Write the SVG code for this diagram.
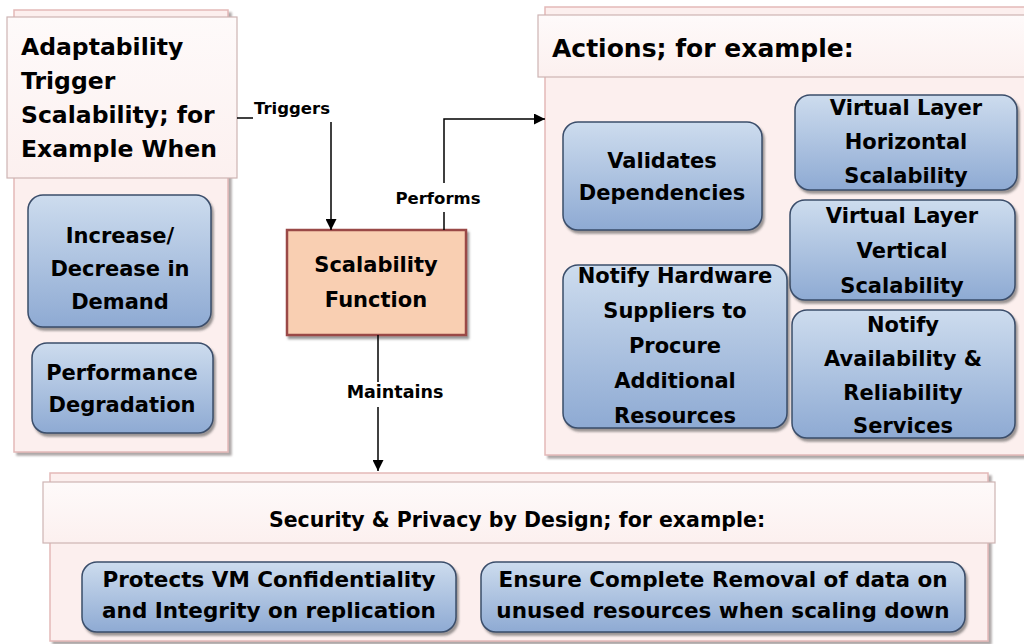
<svg xmlns="http://www.w3.org/2000/svg" width="1024" height="644" viewBox="0 0 1024 644">
  <defs>
    <linearGradient id="blueFill" x1="0" y1="0" x2="0" y2="1">
      <stop offset="0" stop-color="#cddcee"/>
      <stop offset="1" stop-color="#8eaad3"/>
    </linearGradient>
    <linearGradient id="headFill" x1="0" y1="0" x2="0" y2="1">
      <stop offset="0" stop-color="#fefafa"/>
      <stop offset="1" stop-color="#fcf0ef"/>
    </linearGradient>
    <filter id="shadow" x="-10%" y="-10%" width="120%" height="130%">
      <feDropShadow dx="2" dy="3" stdDeviation="1.2" flood-color="#4a4a4a" flood-opacity="0.55"/>
    </filter>
    <filter id="softShadow" x="-5%" y="-5%" width="110%" height="115%">
      <feDropShadow dx="3" dy="3" stdDeviation="1" flood-color="#8a8282" flood-opacity="0.7"/>
    </filter>
    <marker id="arrow" viewBox="0 0 10 10" refX="10" refY="5" markerWidth="11" markerHeight="11" markerUnits="userSpaceOnUse" orient="auto">
      <path d="M0,0 L10,5 L0,10 z" fill="#000"/>
    </marker>
  </defs>
  <style>
    text { font-family: "DejaVu Sans", Verdana, sans-serif; font-weight: bold; fill: #000; }
    .container { fill: #fcefee; stroke: #e3b9b8; stroke-width: 1.5; filter: url(#softShadow); }
    .header { fill: url(#headFill); stroke: #cdb4b3; stroke-width: 1.2; }
    .item { fill: url(#blueFill); stroke: #3a4d6a; stroke-width: 1.5; filter: url(#shadow); }
    .item-text { font-size: 21px; text-anchor: middle; }
    .wide-text { font-size: 21.5px; text-anchor: middle; }
    .head-text { font-size: 23.5px; }
    .label { font-size: 16.5px; }
    .wire { stroke: #000; stroke-width: 1.5; fill: none; }
  </style>

  <rect width="1024" height="644" fill="#ffffff"/>

  <!-- Left panel: triggers -->
  <g id="triggers-panel">
    <rect class="container" x="14" y="10" width="214" height="442"/>
    <rect class="header" x="7" y="17" width="230" height="161"/>
    <text class="head-text" x="21" y="55">Adaptability</text>
    <text class="head-text" x="21" y="89">Trigger</text>
    <text class="head-text" x="21" y="123">Scalability; for</text>
    <text class="head-text" x="21" y="157">Example When</text>
  </g>
  <g id="demand">
    <rect class="item" x="28" y="195" width="183" height="132" rx="15"/>
    <text class="item-text" x="120" y="243">Increase/</text>
    <text class="item-text" x="120" y="276">Decrease in</text>
    <text class="item-text" x="120" y="309">Demand</text>
  </g>
  <g id="degradation">
    <rect class="item" x="32" y="343" width="181" height="90" rx="15"/>
    <text class="item-text" x="122" y="380">Performance</text>
    <text class="item-text" x="122" y="412">Degradation</text>
  </g>

  <!-- Right panel: actions -->
  <g id="actions-panel">
    <rect class="container" x="545" y="7" width="490" height="448"/>
    <rect class="header" x="538" y="15" width="496" height="62"/>
    <text x="552" y="57" style="font-size:25px">Actions; for example:</text>
  </g>
  <g id="validates">
    <rect class="item" x="563" y="122" width="199" height="108" rx="15"/>
    <text class="item-text" x="662" y="168">Validates</text>
    <text class="item-text" x="662" y="200">Dependencies</text>
  </g>
  <g id="horizontal">
    <rect class="item" x="795" y="95" width="222" height="95" rx="15"/>
    <text class="item-text" x="906" y="115">Virtual Layer</text>
    <text class="item-text" x="906" y="149">Horizontal</text>
    <text class="item-text" x="906" y="183">Scalability</text>
  </g>
  <g id="vertical">
    <rect class="item" x="790" y="200" width="225" height="100" rx="15"/>
    <text class="item-text" x="902" y="223">Virtual Layer</text>
    <text class="item-text" x="902" y="258">Vertical</text>
    <text class="item-text" x="902" y="293">Scalability</text>
  </g>
  <g id="hardware">
    <rect class="item" x="563" y="265" width="224" height="163" rx="15"/>
    <text class="item-text" x="675" y="283">Notify Hardware</text>
    <text class="item-text" x="675" y="318">Suppliers to</text>
    <text class="item-text" x="675" y="353">Procure</text>
    <text class="item-text" x="675" y="388">Additional</text>
    <text class="item-text" x="675" y="423">Resources</text>
  </g>
  <g id="availability">
    <rect class="item" x="792" y="310" width="223" height="128" rx="15"/>
    <text class="item-text" x="903" y="332">Notify</text>
    <text class="item-text" x="903" y="366">Availability &amp;</text>
    <text class="item-text" x="903" y="400">Reliability</text>
    <text class="item-text" x="903" y="433">Services</text>
  </g>

  <!-- Central function -->
  <g id="scalability-function">
    <rect x="287" y="230" width="179" height="105" fill="#f9cfb2" stroke="#9a4a47" stroke-width="2.5" filter="url(#shadow)"/>
    <text class="item-text" x="376" y="272">Scalability</text>
    <text class="item-text" x="376" y="307">Function</text>
  </g>

  <!-- Bottom panel: security -->
  <g id="security-panel">
    <rect class="container" x="50" y="473" width="938" height="168"/>
    <rect class="header" x="43" y="482" width="952" height="61"/>
    <text x="517" y="527" text-anchor="middle" style="font-size:20.5px">Security &amp; Privacy by Design; for example:</text>
  </g>
  <g id="confidentiality">
    <rect class="item" x="82" y="562" width="374" height="70" rx="15"/>
    <text class="wide-text" x="269" y="587">Protects VM Confidentiality</text>
    <text class="wide-text" x="269" y="618">and Integrity on replication</text>
  </g>
  <g id="removal">
    <rect class="item" x="481" y="562" width="484" height="70" rx="15"/>
    <text class="wide-text" x="723" y="587">Ensure Complete Removal of data on</text>
    <text class="wide-text" x="723" y="618">unused resources when scaling down</text>
  </g>

  <!-- Connectors -->
  <g id="connectors">
    <path class="wire" d="M237,118 H253"/>
    <text class="label" x="254" y="114">Triggers</text>
    <path class="wire" d="M331,122 V230" marker-end="url(#arrow)"/>

    <path class="wire" d="M444,230 V212"/>
    <text class="label" x="438" y="204" text-anchor="middle">Performs</text>
    <path class="wire" d="M444,183 V119 H545" marker-end="url(#arrow)"/>

    <path class="wire" d="M378,335 V382"/>
    <text class="label" x="395" y="398" text-anchor="middle" style="font-size:17.5px">Maintains</text>
    <path class="wire" d="M378,407 V471" marker-end="url(#arrow)"/>
  </g>
</svg>
